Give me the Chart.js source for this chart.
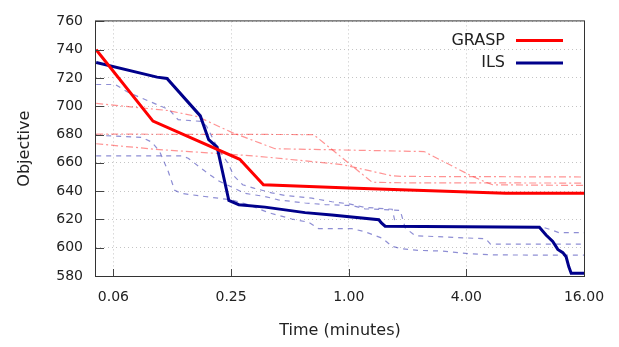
<!DOCTYPE html>
<html>
<head>
<meta charset="utf-8">
<script src="https://cdn.jsdelivr.net/npm/chart.js@4.4.1/dist/chart.umd.min.js"></script>
<style>
  html, body { margin: 0; padding: 0; background: #fff; }
  #chart { display: block; }
</style>
</head>
<body>
<canvas id="chart" width="619" height="347"></canvas>
<script>
// time in minutes, objective value
const graspTime = [0.051, 0.0996, 0.277, 0.366, 1.0, 6.35, 16];
const graspObj = [740, 689.5, 662.5, 644.5, 642.3, 638.5, 638.5];

const ilsTime = [0.051, 0.1045, 0.1175, 0.174, 0.192, 0.212, 0.2435, 0.274, 0.373, 0.598, 0.82, 1.426, 1.47, 1.536,
  9.46, 10.23, 11.07, 11.75, 12.47, 12.96, 13.38, 13.76, 16];
const ilsObj = [731, 720.6, 719.7, 693.2, 676.4, 671.2, 633.4, 630.4, 628.7, 624.8, 623.2, 619.8, 617.5, 615.2,
  614.5, 609, 604.4, 598.8, 596.5, 593.6, 586.5, 582, 582];

// single GRASP runs
const graspRun1Time = [0.051, 0.119, 0.1682, 0.2535, 0.4196, 2.429, 4.213, 5.031, 5.445, 16];
const graspRun1Obj = [702, 697, 692.7, 681.4, 670, 668, 651, 646.3, 644.5, 644];
const graspRun2Time = [0.051, 0.661, 1.3175, 1.879, 16];
const graspRun2Obj = [680.3, 680, 646.3, 645.9, 645.7];
const graspRun3Time = [0.051, 0.1024, 0.334, 0.924, 1.669, 1.879, 16];
const graspRun3Obj = [673.5, 669.6, 664.8, 658.8, 650.8, 650.4, 650];

// single ILS runs
const ilsRun1Time = [0.051, 0.0638, 0.0746, 0.1066, 0.1214, 0.134, 0.1763, 0.1872, 0.2107, 0.2428, 0.2576, 0.2866,
  0.3301, 0.4036, 0.4705, 0.6477, 0.8208, 1.0035, 1.2125, 1.669, 1.7496, 9.84, 10.69, 11.89, 16];
const ilsRun1Obj = [715.4, 715.4, 709.7, 700.7, 697.3, 690.5, 689.3, 686, 672, 659, 651, 644.5,
  642, 638.8, 637, 635, 632.5, 631, 628.5, 627.2, 615, 614.5, 613, 610.7, 610.7];
const ilsRun2Time = [0.051, 0.0875, 0.0984, 0.1079, 0.119, 0.1287, 0.1393, 0.1835, 0.2516, 0.3069, 0.3883, 0.5113,
  0.6229, 0.7012, 1.0396, 1.215, 1.4826, 1.669, 1.879, 2.289, 3.015, 4.135, 5.665, 16];
const ilsRun2Obj = [679.5, 678, 674.6, 667.8, 654.2, 640.6, 638.4, 636.2, 633.8, 630.4, 624.8, 620.3,
  618, 613.5, 613.5, 611.2, 606.7, 601, 599.2, 598.1, 597.6, 595.8, 594.9, 594.7];
const ilsRun3Time = [0.051, 0.1393, 0.1507, 0.1835, 0.2149, 0.2516, 0.2946, 0.373, 0.4366, 0.5983, 0.7583, 1.0396,
  1.2125, 1.834, 1.9467, 2.19, 5.031, 5.318, 16];
const ilsRun3Obj = [664.9, 664.9, 663.3, 654.2, 647.4, 642.9, 638.4, 636.2, 633.8, 631.6, 630.5, 629.8,
  627.5, 626.4, 614, 608.5, 606.3, 602.6, 602.6];

const xTicks = [0.0625, 0.25, 1, 4, 16];

const FONT = '"DejaVu Sans", Verdana, sans-serif';
const TEXT = '#222';

function points(ts, vs) {
  return ts.map((t, i) => ({ x: t, y: vs[i] }));
}

function mainLine(label, ts, vs, color) {
  return { label: label, data: points(ts, vs), borderColor: color, borderWidth: 3, tension: 0, pointRadius: 0 };
}

function runLine(ts, vs, color, dash) {
  return { data: points(ts, vs), borderColor: color, borderWidth: 1.2, borderDash: dash, tension: 0, pointRadius: 0 };
}

const runRed = 'rgba(255, 40, 40, 0.5)';
const runBlue = 'rgba(30, 30, 170, 0.5)';

// frame, inward tick marks and the key in the top right corner
const frameAndKey = {
  id: 'frameAndKey',
  afterDatasetsDraw(chart) {
    const { ctx, chartArea: a, scales } = chart;
    ctx.save();
    ctx.setLineDash([]);
    ctx.strokeStyle = '#444';
    ctx.lineWidth = 1;
    ctx.beginPath();
    scales.y.ticks.forEach((t) => {
      const y = Math.round(scales.y.getPixelForValue(t.value)) + 0.5;
      ctx.moveTo(a.left, y);
      ctx.lineTo(a.left + 8, y);
    });
    scales.x.ticks.forEach((t) => {
      const x = Math.round(scales.x.getPixelForValue(t.value)) + 0.5;
      ctx.moveTo(x, a.bottom);
      ctx.lineTo(x, a.bottom - 7);
    });
    ctx.stroke();

    ctx.strokeStyle = '#333';
    ctx.strokeRect(a.left - 0.5, a.top - 0.5, a.right - a.left + 1, a.bottom - a.top + 1);

    ctx.font = '16px ' + FONT;
    ctx.textAlign = 'right';
    ctx.textBaseline = 'middle';
    ctx.fillStyle = TEXT;
    let y = a.top + 19;
    chart.data.datasets.filter((d) => d.label).forEach((d) => {
      ctx.fillText(d.label, a.right - 79, y);
      ctx.strokeStyle = d.borderColor;
      ctx.lineWidth = 3;
      ctx.beginPath();
      ctx.moveTo(a.right - 68, y);
      ctx.lineTo(a.right - 21, y);
      ctx.stroke();
      y += 22.5;
    });
    ctx.restore();
  },
};

new Chart(document.getElementById('chart'), {
  type: 'line',
  data: {
    datasets: [
      mainLine('GRASP', graspTime, graspObj, '#ff0000'),
      mainLine('ILS', ilsTime, ilsObj, '#00008b'),
      runLine(graspRun1Time, graspRun1Obj, runRed, [7, 3, 2, 3]),
      runLine(graspRun2Time, graspRun2Obj, runRed, [7, 3, 2, 3]),
      runLine(graspRun3Time, graspRun3Obj, runRed, [7, 3, 2, 3]),
      runLine(ilsRun1Time, ilsRun1Obj, runBlue, [5, 5]),
      runLine(ilsRun2Time, ilsRun2Obj, runBlue, [5, 5]),
      runLine(ilsRun3Time, ilsRun3Obj, runBlue, [5, 5]),
    ],
  },
  options: {
    responsive: false,
    animation: false,
    layout: { padding: { top: 11, right: 35, left: 0, bottom: 0 } },
    plugins: { legend: { display: false }, tooltip: { enabled: false } },
    scales: {
      x: {
        type: 'logarithmic',
        min: 0.0509,
        max: 16,
        afterBuildTicks: (scale) => {
          scale.ticks = xTicks.map((v) => ({ value: v }));
        },
        afterFit: (scale) => {
          scale.height = 71;
        },
        ticks: {
          autoSkip: false,
          maxRotation: 0,
          padding: 13,
          color: TEXT,
          font: { family: FONT, size: 14 },
          callback: (v) => Number(v).toFixed(2),
        },
        grid: { color: '#c4c4c4', lineWidth: 1, drawTicks: false },
        border: { display: false, dash: [1, 3] },
        title: {
          display: true,
          text: 'Time (minutes)',
          color: TEXT,
          font: { family: FONT, size: 16 },
          padding: { top: 0, bottom: 7 },
        },
      },
      y: {
        min: 580,
        max: 760,
        afterFit: (scale) => {
          scale.width = 96;
        },
        ticks: {
          stepSize: 20,
          padding: 13,
          color: TEXT,
          font: { family: FONT, size: 14 },
        },
        grid: { color: '#c4c4c4', lineWidth: 1, drawTicks: false },
        border: { display: false, dash: [1, 3] },
        title: {
          display: true,
          text: 'Objective',
          color: TEXT,
          font: { family: FONT, size: 16 },
          padding: { top: 15, bottom: 0 },
        },
      },
    },
  },
  plugins: [frameAndKey],
});
</script>
</body>
</html>
